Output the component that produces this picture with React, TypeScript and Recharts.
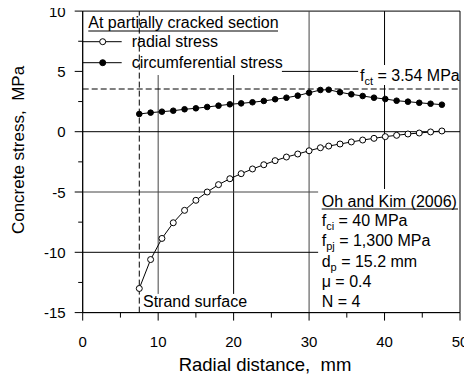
import React from 'react';
import { LineChart, Line, XAxis, YAxis, ReferenceLine, ReferenceArea } from 'recharts';

const radialDistance = [7.5, 9, 10.5, 12, 13.5, 15, 16.5, 18, 19.5, 21, 22.5, 24, 25.5, 27, 28.5, 30, 31.5, 32.6, 34.1, 35.6, 37.1, 38.6, 40.1, 41.6, 43.1, 44.6, 46.1, 47.6];
const radialStress = [-13.0, -10.6, -8.85, -7.55, -6.52, -5.69, -5.0, -4.39, -3.9, -3.48, -3.09, -2.74, -2.4, -2.1, -1.85, -1.58, -1.33, -1.19, -1.02, -0.85, -0.69, -0.55, -0.41, -0.3, -0.19, -0.11, -0.02, 0.06];
const circumferentialStress = [1.47, 1.58, 1.66, 1.74, 1.86, 1.94, 2.05, 2.16, 2.27, 2.35, 2.44, 2.55, 2.69, 2.82, 2.99, 3.23, 3.46, 3.48, 3.27, 3.1, 2.96, 2.82, 2.71, 2.57, 2.49, 2.4, 2.32, 2.24];
const xTicks = [0, 5, 10, 15, 20, 25, 30, 35, 40, 45, 50];
const yTicks = [-15, -12.5, -10, -7.5, -5, -2.5, 0, 2.5, 5, 7.5, 10];
const fctValue = 3.54;
const strandRadius = 7.5;

const data = radialDistance.map((r, i) => ({ r, radial: radialStress[i], circ: circumferentialStress[i] }));

const FONT = 'Liberation Sans, Arial, sans-serif';

const YTick = (props: any) => {
  const { x, y, payload } = props;
  const v = payload.value;
  const major = v % 5 === 0;
  return (
    <g>
      <line x1={x} x2={x - (major ? 8 : 4.5)} y1={y} y2={y} stroke="#000" />
      {major && (
        <text x={x - 17} y={y} textAnchor="end" dominantBaseline="central" fontSize={15} fontFamily={FONT} fill="#000">
          {v}
        </text>
      )}
    </g>
  );
};

const XTick = (props: any) => {
  const { x, y, payload } = props;
  const v = payload.value;
  const major = v % 10 === 0;
  return (
    <g>
      <line x1={x} x2={x} y1={y} y2={y + (major ? 8 : 5)} stroke="#000" />
      {major && (
        <text x={x} y={y + 28.5} textAnchor="middle" dominantBaseline="central" fontSize={15} fontFamily={FONT} fill="#000">
          {v}
        </text>
      )}
    </g>
  );
};

const Annotations = () => (
  <g fontFamily={FONT} fill="#000">
    {/* legend */}
    <text x={88.3} y={28.3} fontSize={16}>At partially cracked section</text>
    <line x1={88.3} x2={278} y1={31} y2={31} stroke="#000" />
    <line x1={82.7} x2={121.7} y1={41.7} y2={41.7} stroke="#000" />
    <circle cx={102.7} cy={41.7} r={3} fill="#fff" stroke="#000" />
    <text x={131.7} y={41.7} fontSize={16} dominantBaseline="central">radial stress</text>
    <line x1={82.7} x2={121.7} y1={62.7} y2={62.7} stroke="#000" />
    <circle cx={102.7} cy={62.7} r={3} fill="#000" stroke="#000" />
    <text x={131.7} y={62.7} fontSize={16} dominantBaseline="central">circumferential stress</text>
    {/* fct label */}
    <text x={360} y={80.7} fontSize={16}>
      f<tspan fontSize={11} dy={4}>ct</tspan><tspan dy={-4}> = 3.54 MPa</tspan>
    </text>
    {/* strand surface */}
    <text x={143} y={307.3} fontSize={16}>Strand surface</text>
    {/* Oh and Kim block */}
    <text x={321.7} y={206.5} fontSize={16}>Oh and Kim (2006)</text>
    <line x1={321.7} x2={458} y1={209} y2={209} stroke="#000" />
    <text x={321.7} y={225.5} fontSize={16}>
      f<tspan fontSize={11} dy={4}>ci</tspan><tspan dy={-4}> = 40 MPa</tspan>
    </text>
    <text x={321.7} y={246} fontSize={16}>
      f<tspan fontSize={11} dy={4}>pj</tspan><tspan dy={-4}> = 1,300 MPa</tspan>
    </text>
    <text x={321.7} y={266.7} fontSize={16}>
      d<tspan fontSize={11} dy={4}>p</tspan><tspan dy={-4}> = 15.2 mm</tspan>
    </text>
    <text x={321.7} y={286.9} fontSize={16}>μ = 0.4</text>
    <text x={321.7} y={307.3} fontSize={16}>N = 4</text>
    {/* axis titles */}
    <text x={265} y={364} fontSize={18.5} textAnchor="middle" dominantBaseline="central" style={{ whiteSpace: 'pre' }}>
      {'Radial distance,  mm'}
    </text>
    <text x={18} y={150} fontSize={17} textAnchor="middle" dominantBaseline="central" transform="rotate(-90 18 150)" style={{ whiteSpace: 'pre' }}>
      {'Concrete stress,  MPa'}
    </text>
  </g>
);

export default function App() {
  return (
    <div style={{ marginTop: -8, marginLeft: -8, width: 472, height: 376 }}>
      <LineChart width={472} height={376} data={data} margin={{ top: 11.1, right: 12, bottom: 23.4, left: 0 }}>
        <XAxis
          type="number"
          dataKey="r"
          domain={[0, 50]}
          ticks={xTicks}
          interval={0}
          tickSize={0}
          tickMargin={0}
          tickLine={false}
          tick={<XTick />}
          height={40}
          axisLine={{ stroke: '#000' }}
          allowDataOverflow
        />
        <YAxis
          type="number"
          domain={[-15, 10]}
          ticks={yTicks}
          interval={0}
          tickSize={0}
          tickMargin={0}
          tickLine={false}
          tick={<YTick />}
          width={82.7}
          axisLine={{ stroke: '#000' }}
          allowDataOverflow
        />
        {/* grid segments (gaps where text boxes sit) */}
        <ReferenceLine segment={[{ x: 10, y: 4.7 }, { x: 10, y: -13.45 }]} stroke="#444" />
        <ReferenceLine segment={[{ x: 20, y: 4.7 }, { x: 20, y: -13.45 }]} stroke="#000" />
        <ReferenceLine segment={[{ x: 30, y: 10 }, { x: 30, y: -15 }]} stroke="#444" />
        <ReferenceLine segment={[{ x: 40, y: 10 }, { x: 40, y: 5.53 }]} stroke="#000" />
        <ReferenceLine segment={[{ x: 40, y: 3.87 }, { x: 40, y: -4.75 }]} stroke="#000" />
        <ReferenceLine segment={[{ x: 26.4, y: 5 }, { x: 36.5, y: 5 }]} stroke="#000" />
        <ReferenceLine segment={[{ x: 0, y: 0 }, { x: 50, y: 0 }]} stroke="#000" />
        <ReferenceLine segment={[{ x: 0, y: -5 }, { x: 31.2, y: -5 }]} stroke="#444" />
        <ReferenceLine segment={[{ x: 0, y: -10 }, { x: 31.2, y: -10 }]} stroke="#000" />
        <ReferenceLine y={fctValue} stroke="#000" strokeDasharray="6 3" />
        <ReferenceLine x={strandRadius} stroke="#000" strokeDasharray="6 3" />
        <ReferenceArea x1={0} x2={50} y1={-15} y2={10} fill="none" stroke="#000" />
        <Line
          dataKey="radial"
          stroke="#000"
          strokeWidth={1}
          isAnimationActive={false}
          dot={{ r: 3, fill: '#fff', stroke: '#000', strokeWidth: 1 }}
          activeDot={false}
        />
        <Line
          dataKey="circ"
          stroke="#000"
          strokeWidth={1}
          isAnimationActive={false}
          dot={{ r: 2.8, fill: '#000', stroke: '#000', strokeWidth: 1 }}
          activeDot={false}
        />
        <Annotations />
      </LineChart>
    </div>
  );
}
